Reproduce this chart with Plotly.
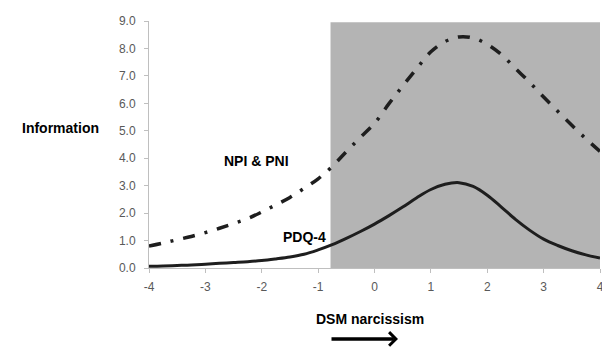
import plotly.graph_objects as go

theta = [-4, -3.75, -3.5, -3.25, -3, -2.75, -2.5, -2.25, -2, -1.75, -1.5, -1.25, -1, -0.75, -0.5, -0.25,
         0, 0.25, 0.5, 0.75, 1, 1.25, 1.5, 1.75, 2, 2.25, 2.5, 2.75, 3, 3.25, 3.5, 3.75, 4]
npi_pni = [0.80, 0.91, 1.03, 1.15, 1.29, 1.45, 1.62, 1.80, 2.04, 2.30, 2.57, 2.90, 3.25, 3.70, 4.24, 4.76,
           5.27, 5.97, 6.63, 7.27, 7.88, 8.25, 8.42, 8.38, 8.15, 7.78, 7.27, 6.77, 6.23, 5.71, 5.20, 4.71, 4.25]
pdq4 = [0.06, 0.07, 0.09, 0.11, 0.14, 0.17, 0.20, 0.23, 0.27, 0.33, 0.40, 0.50, 0.66, 0.85, 1.08, 1.33,
        1.60, 1.90, 2.22, 2.56, 2.86, 3.05, 3.11, 2.97, 2.65, 2.22, 1.77, 1.38, 1.05, 0.82, 0.63, 0.48, 0.36]
x_ticks = [-4, -3, -2, -1, 0, 1, 2, 3, 4]
y_ticks = [0, 1, 2, 3, 4, 5, 6, 7, 8, 9]
shade_start = -0.78
shade_top = 8.95

FONT = "Liberation Sans"
# the page body has an 8px margin, so the figure is drawn 8px smaller and offset
OFF = 8

fig = go.Figure()
fig.add_trace(go.Scatter(x=theta, y=npi_pni, mode="lines", line_shape="spline",
                         line=dict(color="#1e1e1e", width=3.5, dash="12px,10px,3px,10px"),
                         name="NPI & PNI", showlegend=False, hoverinfo="skip"))
fig.add_trace(go.Scatter(x=theta, y=pdq4, mode="lines", line_shape="spline",
                         line=dict(color="#1e1e1e", width=3),
                         name="PDQ-4", showlegend=False, hoverinfo="skip"))

fig.add_shape(type="rect", xref="x", yref="y", x0=shade_start, x1=4, y0=0, y1=shade_top,
              fillcolor="#b4b4b4", line=dict(width=0), layer="below")

fig.update_layout(
    width=610 - OFF, height=354 - OFF,
    margin=dict(l=149 - OFF, r=10, t=14 - OFF, b=86),
    paper_bgcolor="white", plot_bgcolor="white",
    font=dict(family=FONT, size=12, color="#595959"),
    xaxis=dict(range=[-4, 4], tickvals=x_ticks, ticktext=[str(v) for v in x_ticks],
               showgrid=False, zeroline=False, showline=True, linecolor="#bfbfbf", linewidth=1,
               ticks="outside", ticklen=4, tickcolor="#bfbfbf", ticklabelstandoff=4,
               ticklabeloverflow="allow"),
    yaxis=dict(range=[0, 9], tickvals=y_ticks, ticktext=[f"{v:.1f}" for v in y_ticks],
               showgrid=False, zeroline=False, showline=True, linecolor="#bfbfbf", linewidth=1,
               ticks="outside", ticklen=4, tickcolor="#bfbfbf", ticklabelstandoff=6,
               ticklabeloverflow="allow"),
)

bold = dict(family=FONT, size=14, color="#000000")
fig.add_annotation(xref="paper", yref="paper", x=(60 - 149) / 451, y=(268 - 124) / 254,
                   xanchor="center", yanchor="middle",
                   text="<b>Information</b>", showarrow=False, font=bold)
fig.add_annotation(xref="x", yref="y", x=-2.1, y=3.9, xanchor="center", yanchor="middle",
                   text="<b>NPI & PNI</b>", showarrow=False, font=bold)
fig.add_annotation(xref="x", yref="y", x=-1.24, y=1.13, xanchor="center", yanchor="middle",
                   text="<b>PDQ-4</b>", showarrow=False, font=bold)
fig.add_annotation(xref="paper", yref="paper", x=(370 - 149) / 451, y=(268 - 320) / 254,
                   xanchor="center", yanchor="middle",
                   text="<b>DSM narcissism</b>", showarrow=False, font=bold)
fig.add_annotation(xref="paper", yref="paper", x=(398 - 149) / 451, y=(268 - 341) / 254,
                   ax=-68, ay=0, axref="pixel", ayref="pixel",
                   text="", showarrow=True, arrowhead=4, arrowsize=0.75, arrowwidth=3.5,
                   arrowcolor="#000000")

fig.write_html("out.html")
